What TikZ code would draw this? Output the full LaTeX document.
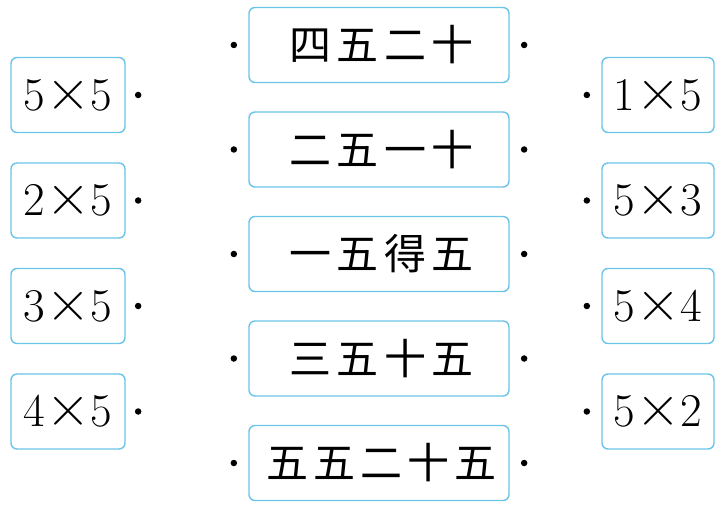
\documentclass[tikz,border=0pt]{standalone}
\usepackage{fontspec}
\usetikzlibrary{positioning}
\newfontfamily\cjk[LetterSpace=12]{Noto Sans CJK SC}
\definecolor{boxblue}{RGB}{108,196,232}
\newcommand{\bigx}{\kern0.02em\scalebox{1.3}{×}\kern0.02em}

\begin{document}
\begin{tikzpicture}[x=1pt, y=-1pt,
  card/.style={draw=boxblue, line width=1.4pt, rounded corners=6pt,
    minimum height=75pt, inner sep=0pt},
  prod/.style={card, minimum width=114pt, font=\fontsize{47}{47}\selectfont},
  rhyme/.style={card, minimum width=260pt, font=\cjk\fontsize{42}{42}\selectfont},
  spot/.style={circle, fill=black, inner sep=0pt, minimum size=6.5pt}]
\useasboundingbox (0,0) rectangle (723,505);
% Left column
\foreach \t [count=\i] in {5,2,3,4} {
  \node[prod] (l\i) at (68,{95+105.5*(\i-1)}) {\t\bigx5};
  \node[spot, right=9pt of l\i] (ld\i) {};
}
% Middle column
\foreach \t [count=\i] in {四五二十,二五一十,一五得五,三五十五,五五二十五} {
  \node[rhyme] (m\i) at (379,{45+104.5*(\i-1)}) {\t\kern-0.12em};
  \node[spot, left=11pt of m\i] (mld\i) {};
  \node[spot, right=11pt of m\i] (mrd\i) {};
}
% Right column
\foreach \a/\b [count=\i] in {1/5,5/3,5/4,5/2} {
  \node[prod, minimum width=112pt] (r\i) at (658,{95+105.5*(\i-1)}) {\a\bigx\b};
  \node[spot, left=11pt of r\i] (rd\i) {};
}
\end{tikzpicture}
\end{document}
